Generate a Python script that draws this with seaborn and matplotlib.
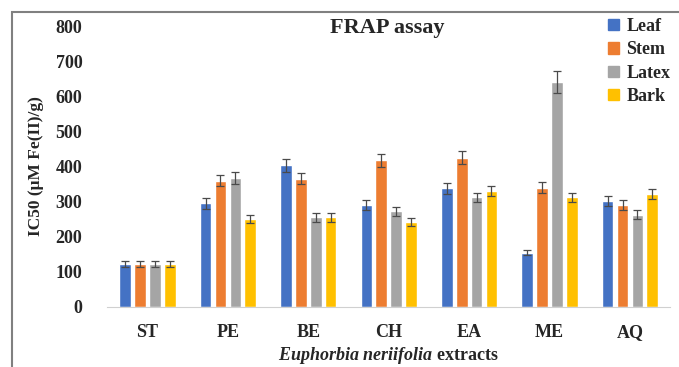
import matplotlib
matplotlib.use("Agg")
import matplotlib.pyplot as plt
import matplotlib.patches as mpatches
import numpy as np
import pandas as pd
import seaborn as sns

# Data
extracts = ["ST", "PE", "BE", "CH", "EA", "ME", "AQ"]
parts = ["Leaf", "Stem", "Latex", "Bark"]
leaf = [122, 295, 403, 290, 338, 155, 302]
stem = [122, 360, 365, 418, 425, 340, 290]
latex = [122, 367, 255, 273, 312, 640, 263]
bark = [122, 250, 255, 243, 330, 312, 322]
leaf_err = [8, 15, 18, 14, 16, 8, 14]
stem_err = [8, 16, 16, 18, 18, 15, 14]
latex_err = [8, 16, 12, 13, 14, 32, 12]
bark_err = [8, 12, 12, 11, 15, 14, 14]

colors = ["#4472C4", "#ED7D31", "#A5A5A5", "#FFC000"]

df = pd.DataFrame({
    "extract": extracts * 4,
    "part": np.repeat(parts, len(extracts)),
    "value": leaf + stem + latex + bark,
    "err": leaf_err + stem_err + latex_err + bark_err,
})

sns.set_style("white")
plt.rcParams["font.family"] = ["Liberation Serif", "DejaVu Serif"]
plt.rcParams["font.weight"] = "bold"
plt.rcParams["mathtext.fontset"] = "custom"
plt.rcParams["mathtext.it"] = "Liberation Serif:italic:bold"
plt.rcParams["mathtext.rm"] = "Liberation Serif:bold"

fig = plt.figure(figsize=(6.79, 3.67), dpi=100)
ax = fig.add_axes([0.158, 0.1635, 0.829, 0.7655])

sns.barplot(data=df, x="extract", y="value", hue="part", order=extracts,
            hue_order=parts, palette=colors, width=0.74, gap=0.22,
            errorbar=None, ax=ax, saturation=1)

# error bars at the bar centres
for container, p in zip(ax.containers, parts):
    sub = df[df["part"] == p]
    xs = [b.get_x() + b.get_width() / 2 for b in container]
    ax.errorbar(xs, sub["value"], yerr=sub["err"], fmt="none",
                ecolor="#4a4a4a", elinewidth=0.9, capsize=3, capthick=0.9)

ax.set_ylim(0, 800)
ax.set_yticks(range(0, 801, 100))
ax.set_xlim(-0.5, 6.5)
for s in ["top", "right", "left"]:
    ax.spines[s].set_visible(False)
ax.spines["bottom"].set_color("#d0d0d0")
ax.tick_params(axis="y", length=0, pad=18, labelsize=13)
ax.tick_params(axis="x", length=0, pad=12, labelsize=13)
for lab in ax.get_xticklabels() + ax.get_yticklabels():
    lab.set_fontweight("bold")

ax.set_xlabel(r"$\mathit{Euphorbia\ neriifolia}$ extracts", fontsize=13,
              fontweight="bold", labelpad=3)
ax.set_ylabel("IC50 (\u03bcM Fe(II)/g)", fontsize=12.5, fontweight="bold",
              labelpad=8)
fig.text(0.571, 0.925, "FRAP assay", ha="center", va="center",
         fontsize=16, fontweight="bold")

handles = [mpatches.Patch(color=c, label=p) for c, p in zip(colors, parts)]
leg = fig.legend(handles=handles, loc="upper left",
                 bbox_to_anchor=(0.872, 0.995), frameon=False,
                 prop={"weight": "bold", "size": 13}, handlelength=0.6,
                 handleheight=0.6, handletextpad=0.4, labelspacing=0.35)
if ax.get_legend():
    ax.get_legend().remove()

# outer frame
fig.patches.append(mpatches.Rectangle((12 / 679, -0.1), 1.2, 1 - 12 / 367 + 0.1,
                                      transform=fig.transFigure, fill=False,
                                      edgecolor="#808080", linewidth=1.5))

fig.savefig("out.png", dpi=100)
